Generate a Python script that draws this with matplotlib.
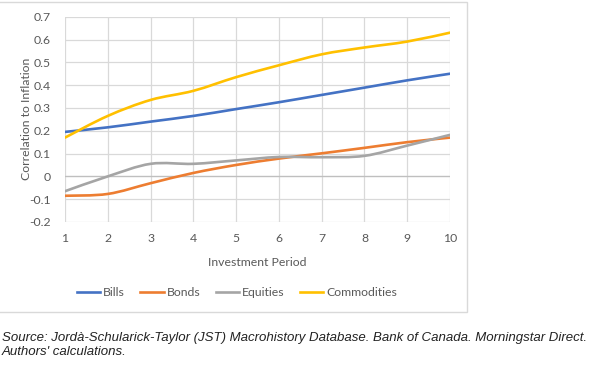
import numpy as np
import matplotlib
matplotlib.use('Agg')
import matplotlib.pyplot as plt
from matplotlib.path import Path
from matplotlib.patches import PathPatch, Rectangle
from matplotlib.lines import Line2D

# data
periods = [1, 2, 3, 4, 5, 6, 7, 8, 9, 10]
bills = [0.195, 0.215, 0.240, 0.265, 0.295, 0.325, 0.357, 0.389, 0.421, 0.450]
bonds = [-0.085, -0.077, -0.030, 0.015, 0.050, 0.078, 0.101, 0.125, 0.150, 0.170]
equities = [-0.065, 0.000, 0.055, 0.055, 0.070, 0.085, 0.084, 0.090, 0.135, 0.182]
commodities = [0.170, 0.265, 0.335, 0.375, 0.435, 0.487, 0.535, 0.565, 0.591, 0.630]
series_names = ["Bills", "Bonds", "Equities", "Commodities"]
y_ticks = [-0.2, -0.1, 0, 0.1, 0.2, 0.3, 0.4, 0.5, 0.6, 0.7]

colors = ["#4472C4", "#ED7D31", "#A5A5A5", "#FFC000"]
text_col = "#595959"
grid_col = "#D9D9D9"
font = "Lato"
fs = 8.8


def smooth_path(x, y):
    # Excel-style smoothed line: cubic bezier through every point
    pts = np.column_stack([x, y]).astype(float)
    n = len(pts)
    verts = [pts[0]]
    codes = [Path.MOVETO]
    for i in range(n - 1):
        p0 = pts[max(i - 1, 0)]
        p1 = pts[i]
        p2 = pts[i + 1]
        p3 = pts[min(i + 2, n - 1)]
        c1 = p1 + (p2 - p0) / 6.0
        c2 = p2 - (p3 - p1) / 6.0
        verts += [c1, c2, p2]
        codes += [Path.CURVE4] * 3
    return Path(verts, codes)


fig = plt.figure(figsize=(6.09, 3.68), dpi=100)

# outer chart frame
fig.patches.append(Rectangle((-0.01, 1 - 312 / 368), 473 / 609, (312 - 2) / 368,
                             transform=fig.transFigure, fill=False,
                             edgecolor=grid_col, lw=1.0))

ax = fig.add_axes([65 / 609, 1 - 222 / 368, 385 / 609, 205.3 / 368])

data = [bills, bonds, equities, commodities]
for vals, c in zip(data, colors):
    ax.add_patch(PathPatch(smooth_path(periods, vals), fill=False,
                           edgecolor=c, lw=1.9, capstyle='round', zorder=3))

ax.set_xlim(1, 10)
ax.set_ylim(-0.2, 0.7)
ax.set_xticks(periods)
ax.set_yticks(y_ticks)
ax.set_yticklabels(["-0.2", "-0.1", "0", "0.1", "0.2", "0.3", "0.4", "0.5", "0.6", "0.7"])
ax.grid(True, color=grid_col, lw=0.9)
ax.set_axisbelow(True)
for s in ax.spines.values():
    s.set_visible(False)
ax.axhline(0, color="#BFBFBF", lw=0.9, zorder=1)
ax.tick_params(axis='x', length=0, colors=text_col, labelsize=fs, pad=8)
ax.tick_params(axis='y', length=0, colors=text_col, labelsize=fs, pad=10)
for lab in ax.get_xticklabels() + ax.get_yticklabels():
    lab.set_fontfamily(font)

ax.set_xlabel("Investment Period", fontsize=fs, color=text_col, family=font, labelpad=9)
ax.set_ylabel("Correlation to Inflation", fontsize=fs, color=text_col, family=font)
ax.yaxis.set_label_coords(-0.085, 0.5)

handles = [Line2D([0], [0], color=c, lw=1.9) for c in colors]
fig.legend(handles, series_names, loc='center', bbox_to_anchor=(237 / 609, 1 - 293 / 368),
           ncol=4, frameon=False, handlelength=1.9, handletextpad=0.25, columnspacing=1.25,
           prop={'family': font, 'size': fs}, labelcolor=text_col)

fig.text(2 / 609, 1 - 338 / 368,
         "Source: Jordà-Schularick-Taylor (JST) Macrohistory Database. Bank of Canada. Morningstar Direct.",
         fontsize=9.5, style='italic', family='Liberation Sans', color='#222222', va='center')
fig.text(2 / 609, 1 - 352 / 368, "Authors' calculations.",
         fontsize=9.5, style='italic', family='Liberation Sans', color='#222222', va='center')

fig.savefig("out.png", dpi=100)
